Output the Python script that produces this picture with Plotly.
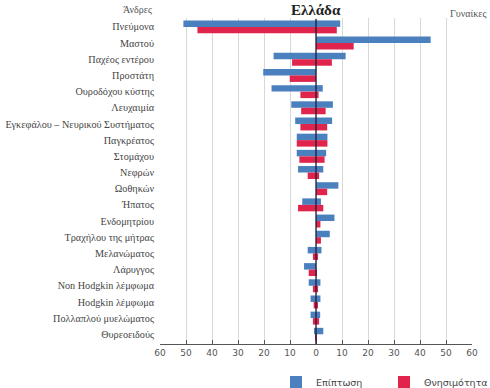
import plotly.graph_objects as go

categories = ["Πνεύμονα", "Μαστού", "Παχέος εντέρου", "Προστάτη", "Ουροδόχου κύστης",
              "Λευχαιμία", "Εγκεφάλου – Νευρικού Συστήματος", "Παγκρέατος", "Στομάχου",
              "Νεφρών", "Ωοθηκών", "Ήπατος", "Ενδομητρίου", "Τραχήλου της μήτρας",
              "Μελανώματος", "Λάρυγγος", "Non Hodgkin λέμφωμα", "Hodgkin λέμφωμα",
              "Πολλαπλού μυελώματος", "Θυρεοειδούς"]

incidence_men = [51.0, 0, 16.3, 20.3, 17.1, 9.5, 8.0, 7.4, 7.4, 6.9, 0, 5.3, 0, 0, 3.2, 4.6, 2.8, 2.1, 2.1, 0.5]
incidence_women = [9.3, 44.1, 11.4, 0, 2.6, 6.5, 6.2, 4.4, 3.9, 2.8, 8.6, 1.9, 7.1, 5.3, 2.1, 0, 1.7, 1.7, 1.6, 2.8]
mortality_men = [45.6, 0, 9.2, 10.1, 6.0, 5.7, 6.0, 7.4, 6.4, 3.2, 0, 6.9, 0, 0, 1.2, 2.8, 1.2, 0.9, 1.2, 0.2]
mortality_women = [8.0, 14.5, 6.1, 0, 1.0, 3.7, 4.3, 4.4, 3.3, 1.2, 4.3, 2.8, 1.7, 1.9, 0.8, 0.2, 0.8, 0.5, 1.2, 0.2]

tick_vals = [-60, -50, -40, -30, -20, -10, 0, 10, 20, 30, 40, 50, 60]
tick_text = ["60", "50", "40", "30", "20", "10", "0", "10", "20", "30", "40", "50", "60"]

BLUE = "#4a80bd"
RED = "#e0244c"

W, H = 490, 388
ML, MR, MT, MB = 160, 18, 18, 44
PW, PH = W - ML - MR, H - MT - MB

def px_x(p):
    return (p - ML) / PW

def px_y(p):
    return (H - MB - p) / PH

fig = go.Figure()
fig.add_trace(go.Bar(y=categories, x=[-v for v in incidence_men], orientation="h",
                     marker_color=BLUE, name="Επίπτωση", offsetgroup="a",
                     legendgroup="a", showlegend=True))
fig.add_trace(go.Bar(y=categories, x=incidence_women, orientation="h",
                     marker_color=BLUE, name="Επίπτωση", offsetgroup="a",
                     legendgroup="a", showlegend=False))
fig.add_trace(go.Bar(y=categories, x=[-v for v in mortality_men], orientation="h",
                     marker_color=RED, name="Θνησιμότητα", offsetgroup="b",
                     legendgroup="b", showlegend=True))
fig.add_trace(go.Bar(y=categories, x=mortality_women, orientation="h",
                     marker_color=RED, name="Θνησιμότητα", offsetgroup="b",
                     legendgroup="b", showlegend=False))

fig.update_traces(marker_line_width=0)

fig.update_layout(
    width=W, height=H,
    margin=dict(l=ML, r=MR, t=MT, b=MB, autoexpand=False),
    paper_bgcolor="white", plot_bgcolor="white",
    barmode="group", bargap=0.2, bargroupgap=0,
    font=dict(family="Liberation Serif", color="#444"),
    xaxis=dict(range=[-60, 60], tickvals=tick_vals, ticktext=tick_text,
               showgrid=True, gridcolor="#d8d8d8", gridwidth=1,
               zeroline=False, showline=True, linecolor="#555", linewidth=1,
               ticks="inside", ticklen=4, tickcolor="#555", automargin=False,
               tickfont=dict(family="DejaVu Sans", size=9, color="#555")),
    yaxis=dict(categoryorder="array", categoryarray=categories,
               range=[19.6, -0.55], showgrid=False, zeroline=False,
               showline=False, ticks="", ticklabelstandoff=5, automargin=False,
               tickfont=dict(family="Liberation Serif", size=10.2, color="#444")),
    legend=dict(orientation="h", x=px_x(276), xanchor="left", y=px_y(382), yanchor="middle",
                font=dict(family="DejaVu Sans", size=9.5, color="#444"),
                entrywidth=63, entrywidthmode="pixels", traceorder="normal",
                bgcolor="rgba(0,0,0,0)"),
    shapes=[dict(type="line", xref="x", yref="paper", x0=0, x1=0, y0=0, y1=px_y(19),
                 line=dict(color="#1c1c3a", width=1.3), layer="above")],
    annotations=[
        dict(text="<b>Ελλάδα</b>", x=0, xref="x", y=px_y(10), yref="paper",
             xanchor="center", yanchor="middle", showarrow=False,
             font=dict(family="Liberation Serif", size=15, color="#222")),
        dict(text="Άνδρες", xref="paper", yref="paper", x=px_x(154), y=px_y(10),
             xanchor="right", yanchor="middle", showarrow=False,
             font=dict(family="Liberation Serif", size=10, color="#555")),
        dict(text="Γυναίκες", xref="paper", yref="paper", x=px_x(488), y=px_y(13),
             xanchor="right", yanchor="middle", showarrow=False,
             font=dict(family="Liberation Serif", size=10, color="#555")),
    ],
)

fig.write_html("out.html", config={"displayModeBar": False},
               post_script="document.body.style.margin='0';")
